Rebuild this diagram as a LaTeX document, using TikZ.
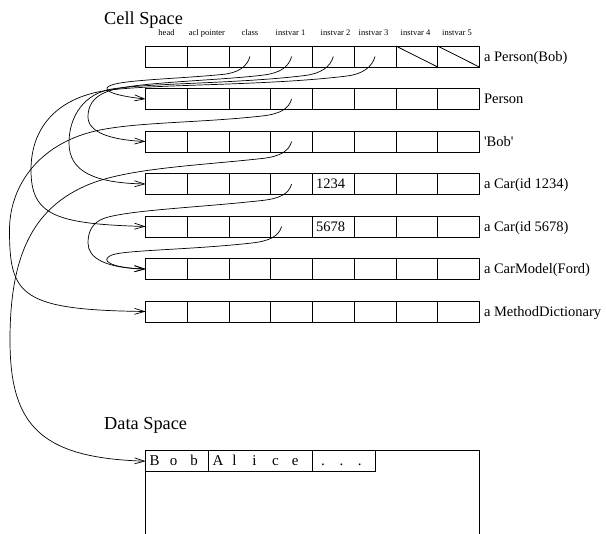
\documentclass[tikz,border=0pt]{standalone}
\usepackage{fontspec}
\setmainfont{Liberation Serif}
\usetikzlibrary{arrows.meta}
\begin{document}
\begin{tikzpicture}[x=1pt,y=-1pt,
  cellbox/.style={draw, line width=0.8pt, minimum width=41.7pt, minimum height=21pt, inner sep=0pt, outer sep=0pt},
  ptr/.style={line width=0.7pt, -{Straight Barb[length=10pt,width=6pt]}},
  hdr/.style={font=\fontsize{8.5}{10}\selectfont, inner sep=0pt, anchor=base},
  lbl/.style={font=\fontsize{14.5}{17}\selectfont, inner sep=0pt, anchor=base west},
  ttl/.style={font=\fontsize{18.3}{21}\selectfont, inner sep=0pt, anchor=base west}]
\useasboundingbox (0,0) rectangle (606,534);

% titles
\node[ttl] (cs) at (104,24.3) {Cell Space};
\node[ttl] (ds) at (104,430) {Data Space};

% cell rows
\foreach \r/\y in {1/56.5,2/99,3/141.5,4/184,5/226.5,6/269,7/311.5}
  \foreach \c in {1,...,8}
    \node[cellbox] (r\r-\c) at ({145.7+41.7*(\c-0.5)},\y) {};

\draw[line width=0.8pt] (r1-7.north west) -- (r1-7.south east);
\draw[line width=0.8pt] (r1-8.north west) -- (r1-8.south east);

% header
\foreach \c/\t/\x in {1/head/166.5, 2/acl pointer/207, 3/class/250, 4/instvar 1/290.5,
    5/instvar 2/335.5, 6/instvar 3/373.5, 7/instvar 4/415.5, 8/instvar 5/457}
  \node[hdr] (h\c) at (\x,36) {\t};

% row labels
\node[lbl] (l1) at ([xshift=4.5pt,yshift=-5pt]r1-8.east) {a Person(Bob)};
\node[lbl] (l2) at ([xshift=4.5pt,yshift=-5pt]r2-8.east) {Person};
\node[lbl] (l3) at ([xshift=4.5pt,yshift=-5pt]r3-8.east) {\textquotesingle Bob\textquotesingle};
\node[lbl] (l4) at ([xshift=4.5pt,yshift=-5pt]r4-8.east) {a Car(id 1234)};
\node[lbl] (l5) at ([xshift=4.5pt,yshift=-5pt]r5-8.east) {a Car(id 5678)};
\node[lbl] (l6) at ([xshift=4.5pt,yshift=-5pt]r6-8.east) {a CarModel(Ford)};
\node[lbl] (l7) at ([xshift=4.5pt,yshift=-5pt]r7-8.east) {a MethodDictionary};

\node[lbl] (v4) at ([xshift=3.5pt,yshift=-5pt]r4-5.west) {1234};
\node[lbl] (v5) at ([xshift=3.5pt,yshift=-5pt]r5-5.west) {5678};

% data space
\draw[line width=0.8pt] (145.7,540) -- (145.7,450.7) -- (479.3,450.7) -- (479.3,540);
\node[cellbox, minimum width=63pt, anchor=north west] (d1) at (145.7,450.7) {};
\node[cellbox, minimum width=104pt, anchor=north west] (d2) at (208.7,450.7) {};
\node[cellbox, minimum width=62.6pt, anchor=north west] (d3) at (312.7,450.7) {};
\node[lbl, font=\fontsize{15}{17}\selectfont] (t1) at (149.5,465.5)
  {\makebox[20.3pt][l]{B}\makebox[20.3pt][l]{o}\makebox[20.3pt][l]{b}};
\node[lbl, font=\fontsize{15}{17}\selectfont] (t2) at (212.5,465.5)
  {\makebox[19.8pt][l]{A}\makebox[19.8pt][l]{l}\makebox[19.8pt][l]{i}\makebox[19.8pt][l]{c}\makebox[19.8pt][l]{e}};
\node[lbl, font=\fontsize{15}{17}\selectfont] (t3) at (321,465.5)
  {\makebox[18.3pt][l]{.}\makebox[18.3pt][l]{.}\makebox[18.3pt][l]{.}};

% pointers from a Person(Bob)
\draw[ptr] (r1-3.center) .. controls (247,67) and (238,73) .. (222,74.5)
  .. controls (170,79.5) and (110,80) .. (107,88)
  .. controls (105.2,92.8) and (125,97) .. (r2-1.west);
\draw[ptr] (r1-4.center) .. controls (288.7,67) and (280,73) .. (264,75)
  .. controls (220,80.5) and (140,82) .. (112,90)
  .. controls (91,96) and (88,108) .. (88,117)
  .. controls (88,132) and (110,140) .. (r3-1.west);
\draw[ptr] (r1-5.center) .. controls (330.3,67) and (321,73.5) .. (305,75.5)
  .. controls (240,83.6) and (150,83) .. (112,89)
  .. controls (85.4,93.2) and (69,115) .. (69,143)
  .. controls (69,172) and (95,183) .. (r4-1.west);
\draw[ptr] (r1-6.center) .. controls (372,67) and (363,74) .. (347,76)
  .. controls (270,85.6) and (160,84) .. (110,90)
  .. controls (60,96) and (31,125) .. (31,170)
  .. controls (31,215) and (55,224) .. (r5-1.west);

% Person -> MethodDictionary
\draw[ptr] (r2-4.center) .. controls (288.7,109) and (280,114) .. (262,116)
  .. controls (200.8,122.8) and (140,122) .. (100,130)
  .. controls (40,142) and (9.5,185) .. (9.5,230)
  .. controls (9.5,295) and (20,310) .. (r7-1.west);

% 'Bob' -> data space
\draw[ptr] (r3-4.center) .. controls (288.7,151.5) and (280,156.5) .. (262,158.5)
  .. controls (200,165.4) and (130,168) .. (90,184)
  .. controls (30,208) and (10,260) .. (10,340)
  .. controls (10,425) and (40,458) .. (d1.west);

% cars -> CarModel
\draw[ptr] (r4-4.center) .. controls (288.7,194) and (280,198.5) .. (262,200.5)
  .. controls (200,207.4) and (130,210) .. (105,218)
  .. controls (92,222.2) and (88,232) .. (88,243)
  .. controls (88,258) and (105,268) .. (r6-1.west);
\draw[ptr] ([xshift=-10pt]r5-4.center) .. controls (278.7,236) and (270,241) .. (252,243)
  .. controls (190,249.9) and (125,250) .. (112,255)
  .. controls (99,260) and (110,268) .. (r6-1.west);
\end{tikzpicture}
\end{document}
